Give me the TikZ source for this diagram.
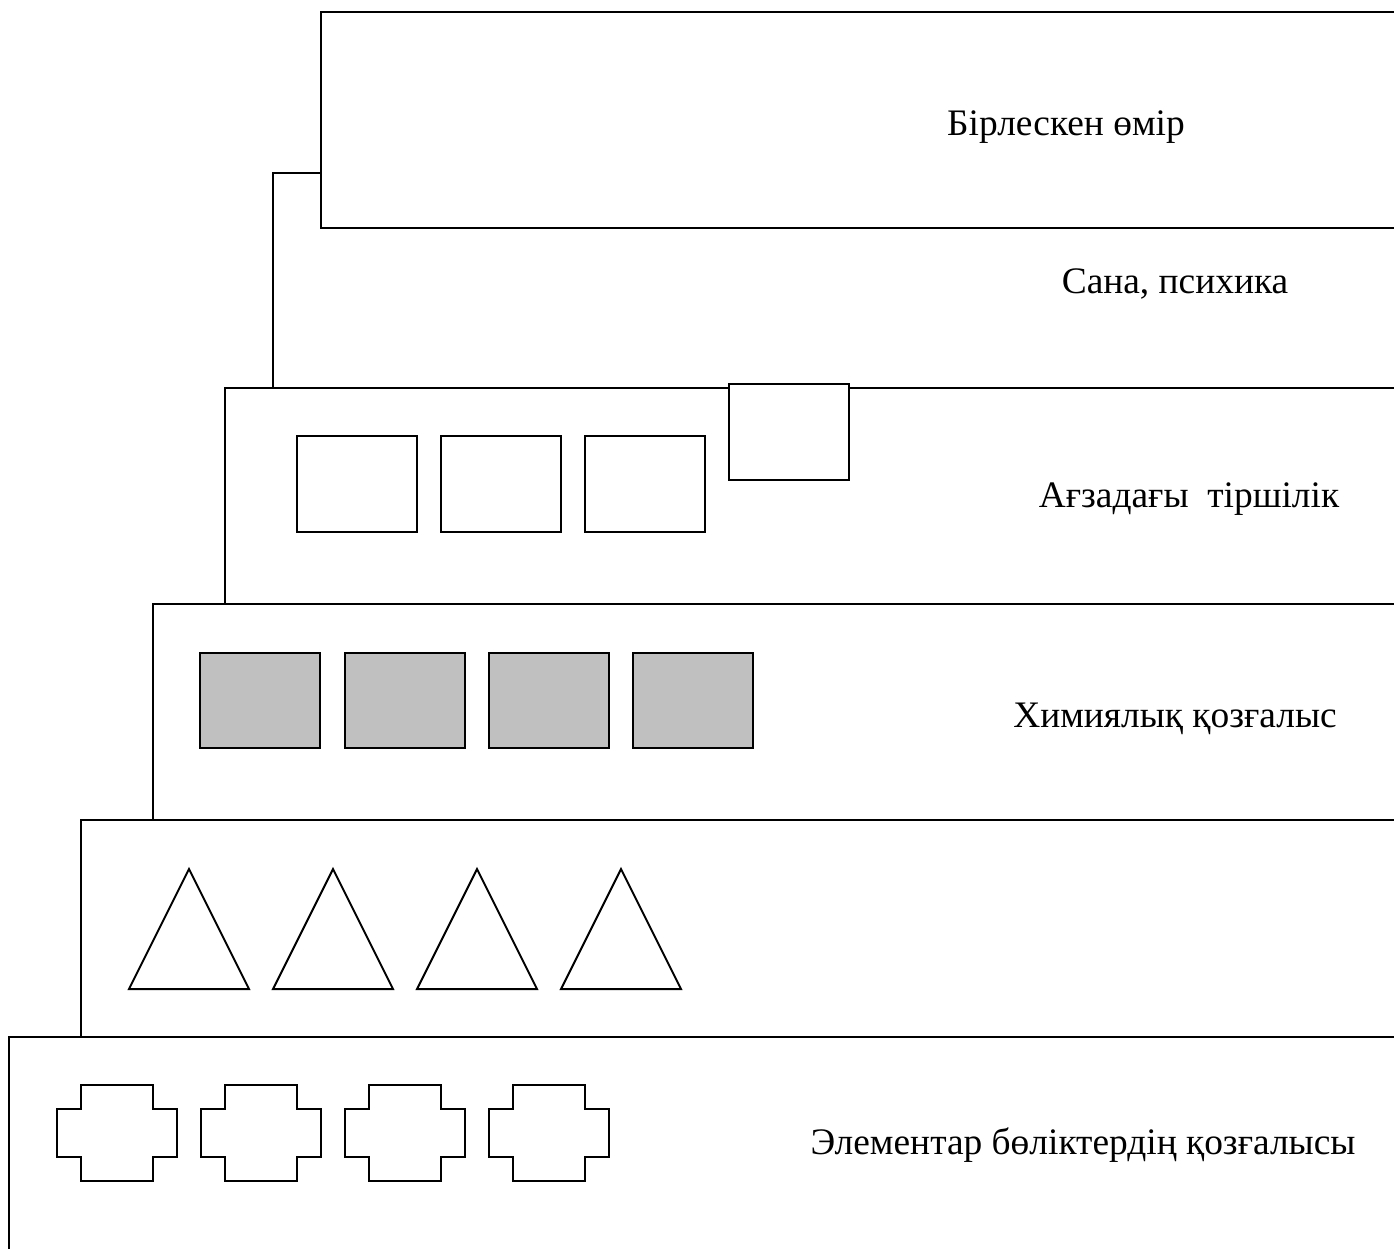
\documentclass[tikz,border=0pt]{standalone}
\usepackage{fontspec}
\setmainfont{Liberation Serif}
\begin{document}
\begin{tikzpicture}[x=1pt,y=-1pt,
  ln/.style={line width=2pt,line join=miter},
  lbl/.style={font=\fontsize{37.4}{44}\selectfont,anchor=base,inner sep=0pt},
  sq/.style={ln,fill=white},
  gsq/.style={ln,fill={rgb,255:red,192;green,192;blue,192}}]
\useasboundingbox (0,0) rectangle (1394,1249);
\begin{scope}
\clip (0,0) rectangle (1394,1249);
% layer boxes (open to the right)
\draw[ln] (1420,12) -- (321,12) -- (321,228) -- (1420,228);
\draw[ln] (1420,388) -- (225,388) -- (225,604) -- (1420,604);
\draw[ln] (1420,604) -- (153,604) -- (153,820) -- (1420,820);
\draw[ln] (1420,820) -- (81,820) -- (81,1037) -- (1420,1037);
\draw[ln] (1420,1037) -- (9,1037) -- (9,1260);
% connector
\coordinate (c1) at (273,388);
\coordinate (c2) at (273,173);
\coordinate (c3) at (321,173);
\draw[ln] (c1) -- (c2) -- (c3);
% squares in organism layer
\foreach \x in {297,441,585}
  \draw[sq] (\x,436) rectangle ++(120,96);
\draw[sq] (729,384) rectangle (849,480);
% grey squares
\foreach \x in {200,345,489,633}
  \draw[gsq] (\x,653) rectangle ++(120,95);
% triangles
\foreach \x in {129,273,417,561}
  \draw[ln] (\x,989) -- ++(120,0) -- ++(-60,-120) -- cycle;
% crosses
\foreach \x in {57,201,345,489}
  \draw[ln] (\x+24,1085) -- (\x+96,1085) -- (\x+96,1109) -- (\x+120,1109)
    -- (\x+120,1157) -- (\x+96,1157) -- (\x+96,1181) -- (\x+24,1181)
    -- (\x+24,1157) -- (\x,1157) -- (\x,1109) -- (\x+24,1109) -- cycle;
\end{scope}
% labels
\node[lbl] (t1) at (1066,136) {Бірлескен өмір};
\node[lbl] (t2) at (1175,293) {Сана, психика};
\node[lbl] (t3) at (1189,507) {Ағзадағы\ \ тіршілік};
\node[lbl] (t4) at (1175,727) {Химиялық қозғалыс};
\node[lbl] (t5) at (1083,1154) {Элементар бөліктердің қозғалысы};
\end{tikzpicture}
\end{document}
